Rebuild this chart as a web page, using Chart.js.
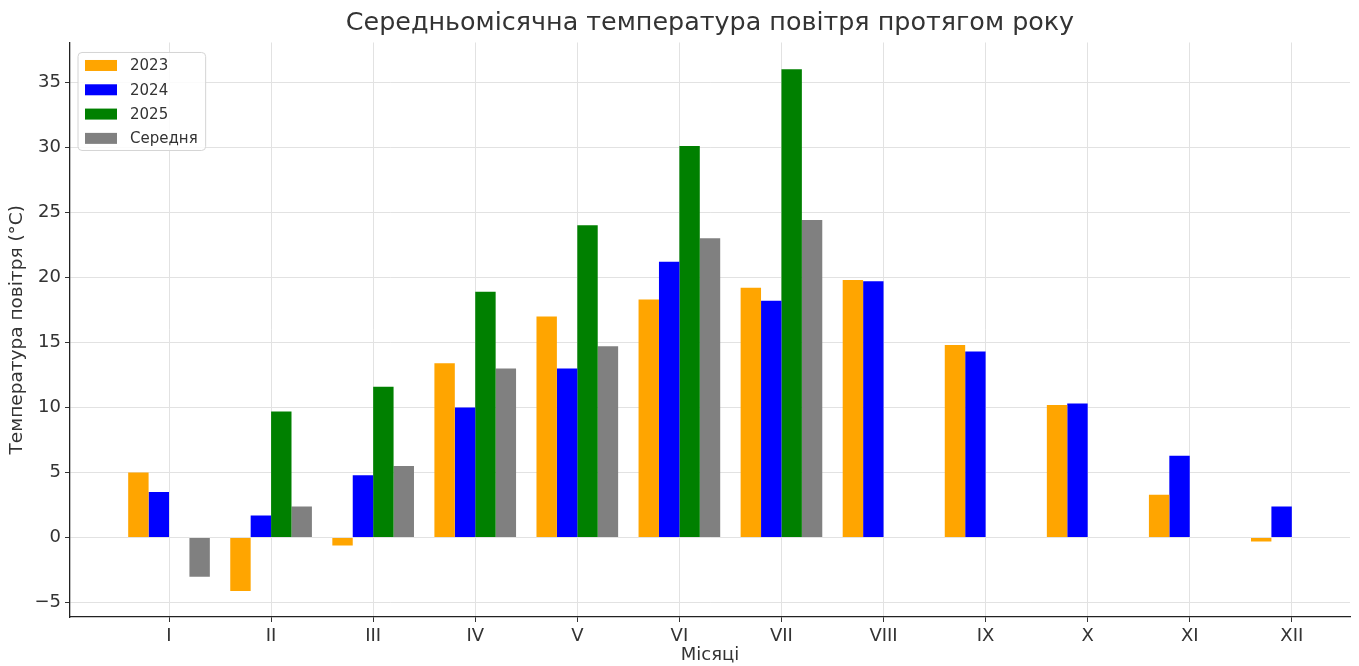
<!DOCTYPE html>
<html lang="uk">
<head>
<meta charset="utf-8">
<title>Середньомісячна температура повітря</title>
<script src="https://cdn.jsdelivr.net/npm/chart.js@4.4.1/dist/chart.umd.min.js"></script>
<style>
  html, body {
    margin: 0;
    padding: 0;
    background: #fff;
  }
  canvas {
    display: block;
  }
</style>
</head>
<body>
<canvas id="chart" width="1359" height="666"></canvas>
<script>
// місяці (римські цифри)
const months = ["I", "II", "III", "IV", "V", "VI", "VII", "VIII", "IX", "X", "XI", "XII"];

// температура, °C
const t2023 = [5.0, -4.1, -0.6, 13.4, 17.0, 18.3, 19.2, 19.8, 14.8, 10.2, 3.3, -0.3];
const t2024 = [3.5, 1.7, 4.8, 10.0, 13.0, 21.2, 18.2, 19.7, 14.3, 10.3, 6.3, 2.4];
const t2025 = [null, 9.7, 11.6, 18.9, 24.0, 30.1, 36.0, null, null, null, null, null];
const tAvg = [-3.0, 2.4, 5.5, 13.0, 14.7, 23.0, 24.4, null, null, null, null, null];

const yTicks = [-5, 0, 5, 10, 15, 20, 25, 30, 35];

const FONT = "'DejaVu Sans', sans-serif";
const TEXT = "#333";

function points(arr) {
  return arr.map((v, i) => ({ x: i, y: v }));
}

// легенда в рамці, як у matplotlib
const boxLegend = {
  id: "boxLegend",
  afterDraw(chart) {
    const ctx = chart.ctx;
    const area = chart.chartArea;
    const sets = chart.data.datasets;
    const x = area.left + 8;
    const y = area.top + 10;
    ctx.save();
    ctx.font = "15px " + FONT;
    let maxW = 0;
    sets.forEach((ds) => {
      maxW = Math.max(maxW, ctx.measureText(ds.label).width);
    });
    const w = 52 + maxW + 8;
    const h = 98;
    ctx.beginPath();
    ctx.roundRect(x, y, w, h, 4);
    ctx.fillStyle = "rgba(255,255,255,0.85)";
    ctx.fill();
    ctx.strokeStyle = "#d4d4d4";
    ctx.lineWidth = 1;
    ctx.stroke();
    ctx.textBaseline = "middle";
    sets.forEach((ds, i) => {
      const cy = y + 13 + i * 24.3;
      ctx.fillStyle = ds.backgroundColor;
      ctx.fillRect(x + 7, cy - 5.5, 32, 11);
      ctx.fillStyle = TEXT;
      ctx.fillText(ds.label, x + 52, cy + 1);
    });
    ctx.restore();
  },
};

new Chart(document.getElementById("chart"), {
  type: "bar",
  data: {
    datasets: [
      { label: "2023", data: points(t2023), backgroundColor: "#FFA500" },
      { label: "2024", data: points(t2024), backgroundColor: "#0000FF" },
      { label: "2025", data: points(t2025), backgroundColor: "#008000" },
      { label: "Середня", data: points(tAvg), backgroundColor: "#808080" },
    ],
  },
  options: {
    responsive: false,
    animation: false,
    layout: {
      padding: { left: 0, right: 9, top: 0, bottom: 0 },
    },
    datasets: {
      bar: {
        categoryPercentage: 0.8,
        barPercentage: 1.0,
        borderWidth: 0,
      },
    },
    plugins: {
      legend: { display: false },
      tooltip: { enabled: false },
      title: {
        display: true,
        fullSize: false, // центр над областю графіка
        text: "Середньомісячна температура повітря протягом року",
        color: TEXT,
        font: { family: FONT, size: 25.4, weight: "normal" },
        padding: { top: 8, bottom: 4 },
      },
    },
    scales: {
      x: {
        type: "linear",
        offset: false,
        min: -0.97,
        max: 11.57,
        afterBuildTicks: (axis) => {
          axis.ticks = months.map((_, i) => ({ value: i }));
        },
        afterFit: (scale) => {
          scale.height = 49;
        },
        ticks: {
          callback: (v) => months[v],
          color: TEXT,
          font: { family: FONT, size: 18 },
          padding: 4,
          maxRotation: 0,
          autoSkip: false,
        },
        grid: {
          offset: false,
          color: "#e2e2e2",
          tickColor: TEXT,
          tickLength: 5,
          lineWidth: 1,
        },
        border: { color: "#222", width: 1.3 },
        title: {
          display: true,
          text: "Місяці",
          color: TEXT,
          font: { family: FONT, size: 18 },
          padding: { top: 0, bottom: 0 },
        },
      },
      y: {
        min: -6.1,
        max: 38.05,
        afterBuildTicks: (axis) => {
          axis.ticks = yTicks.map((v) => ({ value: v }));
        },
        afterFit: (scale) => {
          scale.width = 70;
        },
        ticks: {
          callback: (v) => (v < 0 ? "\u2212" + Math.abs(v) : String(v)),
          color: TEXT,
          font: { family: FONT, size: 18 },
          padding: 4,
        },
        grid: {
          color: "#e2e2e2",
          tickColor: TEXT,
          tickLength: 5,
          lineWidth: 1,
        },
        border: { color: "#222", width: 1.3 },
        title: {
          display: true,
          text: "Температура повітря (°C)",
          color: TEXT,
          font: { family: FONT, size: 18.5 },
          padding: { top: 6, bottom: 0 },
        },
      },
    },
  },
  plugins: [boxLegend],
});
</script>
</body>
</html>
